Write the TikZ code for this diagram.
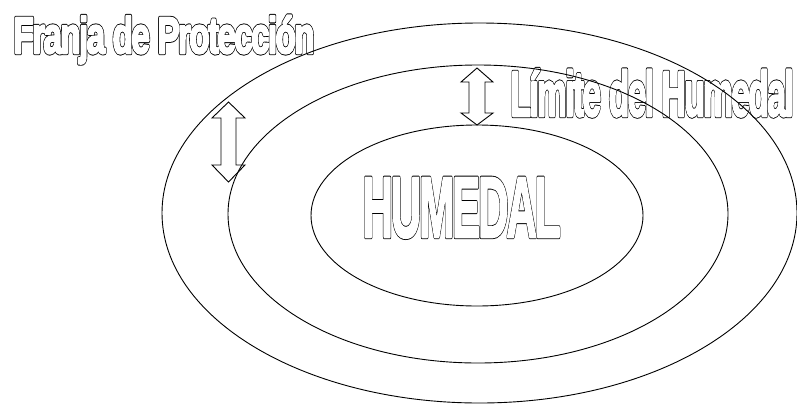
\documentclass[tikz,border=0pt]{standalone}
\usepackage{fontspec}
\setmainfont{Liberation Sans}
\newfontfamily\heavyfont{Liberation Sans}[LetterSpace=-5]
\usepackage{graphicx}
% fat hollow letters: thick black stroke, then white inside
\newcommand\fattext[1]{\rlap{\special{pdf:literal direct 2 Tr 4.3 w 1 j}#1}%
  {\color{white}\special{pdf:literal direct 2 Tr 2.5 w 1 j}#1}%
  \special{pdf:literal direct 0 Tr}}

\begin{document}
\begin{tikzpicture}[x=1pt,y=-1pt,line width=1pt]
\useasboundingbox (0,0) rectangle (797,405);

\node[anchor=base west, inner sep=0] (franja) at (13,53)
  {\resizebox{301pt}{\height}{\fontsize{51}{60}\heavyfont\bfseries\fattext{Franja de Protección}}};
\node[anchor=base west, inner sep=0] (limite) at (510,116)
  {\resizebox{283pt}{\height}{\fontsize{64}{74}\heavyfont\bfseries\fattext{Límite del Humedal}}};
\node[anchor=base west, inner sep=0] (humedal) at (362,237)
  {\resizebox{198pt}{\height}{\fontsize{86}{96}\heavyfont\bfseries\fattext{HUMEDAL}}};

\draw[line width=0.9pt] (479.5,213) ellipse [x radius=317.5, y radius=190];
\draw[line width=0.9pt] (478,214) ellipse [x radius=250, y radius=149];
\draw[line width=0.9pt] (477,215.5) ellipse [x radius=166, y radius=90.5];

\draw[line width=0.9pt] (228.5,102) -- (245,118) -- (236,118) -- (236,165) -- (245,165) -- (228.5,182)
  -- (212,165) -- (221,165) -- (221,118) -- (212,118) -- cycle;
\draw[line width=0.9pt] (477,68) -- (493,82) -- (485,82) -- (485,113) -- (493,113) -- (477,125)
  -- (461,113) -- (469,113) -- (469,82) -- (461,82) -- cycle;
\end{tikzpicture}
\end{document}
